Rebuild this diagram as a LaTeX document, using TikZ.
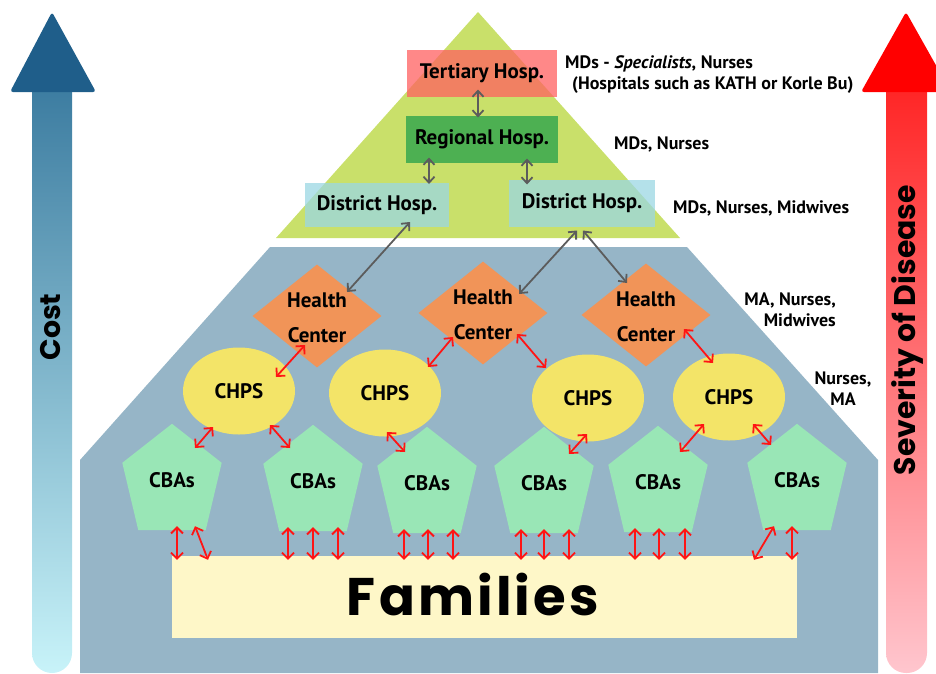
\documentclass[tikz,border=0pt]{standalone}
\usepackage{fontspec}
\setmainfont{PT Sans}
\newfontfamily\popfont{Poppins}
\usetikzlibrary{shapes.geometric,arrows.meta,calc}
\definecolor{trigreen}{HTML}{C9E06A}
\definecolor{trapblue}{HTML}{96B5C7}
\definecolor{tertred}{HTML}{FF6060}
\definecolor{regreen}{HTML}{4DB052}
\definecolor{distblue}{HTML}{9BD7E3}
\definecolor{hcorange}{HTML}{F19458}
\definecolor{chpsyellow}{HTML}{F3E468}
\definecolor{cbagreen}{HTML}{99E6B6}
\definecolor{famyellow}{HTML}{FEF7C8}
\definecolor{arrgray}{HTML}{5C5C5C}
\definecolor{arrred}{HTML}{FF1414}
\definecolor{costdark}{HTML}{1F5E8A}
\definecolor{costtop}{HTML}{3D7DA1}
\definecolor{costbot}{HTML}{C8F3F9}
\definecolor{sevhead}{HTML}{FF0000}
\definecolor{sevtop}{HTML}{FF2626}
\definecolor{sevbot}{HTML}{FFC6CE}
\newcommand\nodefont{\bfseries\fontsize{21}{24}\selectfont}
\newcommand\hcfont{\bfseries\fontsize{21}{35}\selectfont}
\newcommand\lblfont{\bfseries\fontsize{18}{21}\selectfont}
\tikzset{
  hospbox/.style={rectangle, inner sep=0pt, font=\nodefont},
  hcshape/.style={diamond, fill=hcorange, minimum width=129pt, minimum height=103pt, inner sep=0pt},
  chpsshape/.style={ellipse, fill=chpsyellow, minimum width=112pt, minimum height=87pt, inner sep=0pt, font=\nodefont},
  cbabox/.style={rectangle, minimum width=99pt, minimum height=106pt, inner sep=0pt},
  nodetext/.style={inner sep=0pt, font=\nodefont, align=center},
  hctext/.style={inner sep=0pt, font=\hcfont, align=center},
  lbl/.style={inner sep=0pt, font=\lblfont},
  redarr/.style={draw=arrred, line width=1.8pt, {Straight Barb[length=6pt,width=12pt]}-{Straight Barb[length=6pt,width=12pt]}},
  grayarr/.style={draw=arrgray, line width=1.8pt, {Straight Barb[length=6pt,width=11pt]}-{Straight Barb[length=6pt,width=11pt]}}
}
\newcommand\cba[3]{%
  \path (#2,#3) node[cbabox] (#1) {};
  \fill[cbagreen] (#1.north) -- ($(#1.north east)+(0,39)$) -- ($(#1.south east)+(-16,0)$) -- ($(#1.south west)+(16,0)$) -- ($(#1.north west)+(0,39)$) -- cycle;
  \node[nodetext] (#1t) at ($(#1.center)+(0,3)$) {CBAs};
}
\newcommand\famarr[3]{%
  \draw[redarr] ($(#1.south)+(#2,-4)$) -- ($(#1.south |- fam.north)+(#3,4)$);
}
\begin{document}
\begin{tikzpicture}[x=1pt,y=-1pt]
\useasboundingbox (0,0) rectangle (936,673);
\clip (0,0) rectangle (936,673);
% Cost arrow
\shade[top color=costtop, bottom color=costbot] (32,90) {[rounded corners=20pt] -- (32,673) -- (72,673)} -- (72,90) -- cycle;
\fill[costdark, rounded corners=3pt] (52,12) -- (96,92) -- (10,92) -- cycle;
\node[rotate=90, inner sep=0pt] (cost) at (51,327) {\resizebox{67pt}{!}{\popfont\bfseries Cost}};
% Severity arrow
\shade[top color=sevtop, bottom color=sevbot] (886,90) {[rounded corners=20pt] -- (886,673) -- (927,673)} -- (927,90) -- cycle;
\fill[sevhead, rounded corners=3pt] (906,12) -- (951,92) -- (861,92) -- cycle;
\node[rotate=90, inner sep=0pt] (sev) at (907,330) {\resizebox{290pt}{!}{\popfont\bfseries Severity of Disease}};
% pyramid
\fill[trigreen] (478,12) -- (680,238) -- (276,238) -- cycle;
\fill[trapblue] (270,247) -- (687,247) -- (878,460) -- (878,673) -- (80,673) -- (80,460) -- cycle;
% hospitals
\node[hospbox, fill=tertred, fill opacity=0.75, text opacity=1, minimum width=150pt, minimum height=47pt] (tert) at (482,73.5) {Tertiary Hosp.};
\node[hospbox, fill=regreen, minimum width=152pt, minimum height=47pt] (reg) at (482,139.5) {Regional Hosp.};
\node[hospbox, fill=distblue, fill opacity=0.75, text opacity=1, minimum width=144pt, minimum height=44pt] (dist1) at (377,205) {District Hosp.};
\node[hospbox, fill=distblue, fill opacity=0.75, text opacity=1, minimum width=146pt, minimum height=47pt] (dist2) at (582,203.5) {District Hosp.};
% health centers
\node[hcshape] (hc1) at (317,316) {};
\node[hcshape] (hc2) at (483,313) {};
\node[hcshape] (hc3) at (646,315) {};
\node[hctext] (hc1t) at (317,318) {Health\\Center};
\node[hctext] (hc2t) at (483,315) {Health\\Center};
\node[hctext] (hc3t) at (646,317) {Health\\Center};
% CHPS
\node[chpsshape] (chps1) at (239,391) {CHPS};
\node[chpsshape] (chps2) at (385,393) {CHPS};
\node[chpsshape] (chps3) at (588,398) {CHPS};
\node[chpsshape] (chps4) at (729,397) {CHPS};
% CBAs
\cba{cba1}{172}{477}
\cba{cba2}{313}{478}
\cba{cba3}{427}{480}
\cba{cba4}{544}{480}
\cba{cba5}{658}{479}
\cba{cba6}{797}{477}
% Families
\node[rectangle, fill=famyellow, minimum width=625pt, minimum height=82pt, inner sep=0pt] (fam) at (484.5,597) {};
\node[inner sep=0pt] (famt) at (473,595) {\resizebox{252pt}{!}{\popfont\bfseries\addfontfeatures{LetterSpace=6}Families}};
% gray arrows
\draw[grayarr] ($(tert)+(-4,16)$) -- ($(reg)+(-4,-22)$);
\draw[grayarr] ($(reg)+(-53,18)$) -- ($(dist1)+(52,-21)$);
\draw[grayarr] ($(reg)+(45,19)$) -- ($(dist2)+(-55,-19)$);
\draw[grayarr] ($(dist1)+(33,17)$) -- ($(hc1)+(30,-24)$);
\draw[grayarr] ($(dist2)+(-5,27)$) -- ($(hc2)+(36,-19)$);
\draw[grayarr] ($(dist2)+(1,27)$) -- ($(hc3)+(-19,-32)$);
% red arrows HC - CHPS
\draw[redarr] ($(hc1)+(-12,29)$) -- ($(chps1)+(37,-14)$);
\draw[redarr] ($(hc2)+(-30,24)$) -- ($(chps2)+(43,-26)$);
\draw[redarr] ($(hc2)+(34,21)$) -- ($(chps3)+(-42,-30)$);
\draw[redarr] ($(hc3)+(38,14)$) -- ($(chps4)+(-16,-34)$);
% red arrows CHPS - CBAs
\draw[redarr] ($(chps1)+(-26,36)$) -- ($(cba1)+(23,-29)$);
\draw[redarr] ($(chps1)+(31,34)$) -- ($(cba2)+(-23,-30)$);
\draw[redarr] ($(chps2)+(2,39)$) -- ($(cba3)+(-22,-28)$);
\draw[redarr] ($(chps3)+(-1,36)$) -- ($(cba4)+(25,-26)$);
\draw[redarr] ($(chps4)+(-25,27)$) -- ($(cba5)+(22,-27)$);
\draw[redarr] ($(chps4)+(24,27)$) -- ($(cba6)+(-26,-32)$);
% red arrows CBAs - Families
\famarr{cba1}{5}{5}
\famarr{cba1}{23}{36}
\famarr{cba2}{-25}{-25}
\famarr{cba2}{0}{0}
\famarr{cba2}{25}{25}
\famarr{cba3}{-23}{-23}
\famarr{cba3}{1}{1}
\famarr{cba3}{26}{26}
\famarr{cba4}{-23}{-23}
\famarr{cba4}{0}{0}
\famarr{cba4}{25}{25}
\famarr{cba5}{-23}{-23}
\famarr{cba5}{1}{1}
\famarr{cba5}{27}{27}
\famarr{cba6}{-23}{-43}
\famarr{cba6}{-5}{-5}
% labels
\node[lbl, anchor=base west] (l1) at (565,68) {MDs - \textit{Specialists}, Nurses};
\node[lbl, anchor=base west] (l1b) at (572,89) {(Hospitals such as KATH or Korle Bu)};
\node[lbl, anchor=base west] (l2) at (614,149) {MDs, Nurses};
\node[lbl, anchor=base west] (l3) at (673,213) {MDs, Nurses, Midwives};
\node[lbl, align=right, anchor=east] (l4) at (836,310) {MA, Nurses,\\Midwives};
\node[lbl, align=center] (l5) at (843,389) {Nurses,\\MA};
\end{tikzpicture}
\end{document}
